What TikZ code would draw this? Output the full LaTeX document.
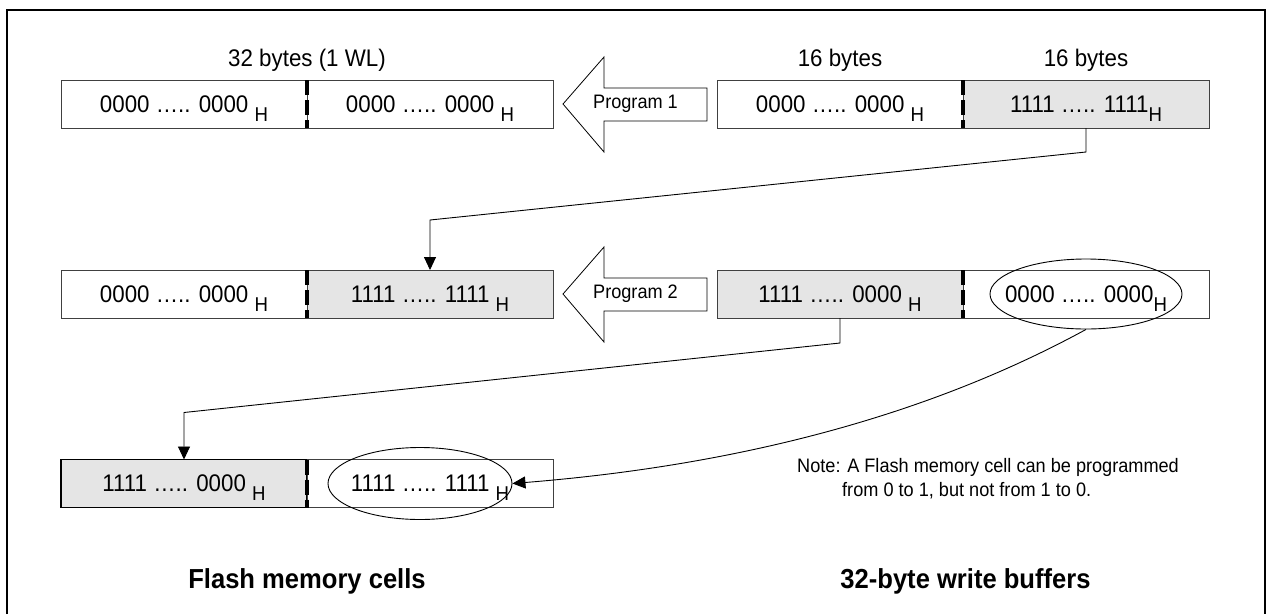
\documentclass[tikz,border=0pt]{standalone}
\usepackage{fontspec}
\setmainfont{Liberation Sans}[FakeStretch=0.93]
\usetikzlibrary{positioning, shapes.geometric, arrows.meta}
\newcommand{\hsub}{\smash{\raisebox{-9pt}{\fontsize{20}{20}\selectfont H}}}

\begin{document}
\begin{tikzpicture}[x=1pt, y=-1pt]
\tikzstyle{half}=[rectangle, draw=black!75, line width=0.9pt, minimum width=246pt, minimum height=48pt, inner sep=0pt, outer sep=0pt, font=\fontsize{24}{24}\selectfont]
\tikzstyle{halfgray}=[half, fill=black!10]
\tikzstyle{divider}=[line width=3.5pt, dash pattern=on 15pt off 5pt]
\tikzstyle{connect}=[-{Triangle[width=12pt,length=13pt]}, line width=0.9pt]
\tikzstyle{progarrow}=[draw, line width=0.8pt, fill=white]
\tikzstyle{ring}=[ellipse, draw, line width=0.9pt, inner sep=0pt]
\tikzstyle{lbl}=[inner sep=0pt, font=\fontsize{24}{24}\selectfont]
\tikzstyle{proglbl}=[inner sep=0pt, font=\fontsize{19.5}{19.5}\selectfont]
\tikzstyle{note}=[inner sep=0pt, align=left, font=\fontsize{19.5}{24}\selectfont]
\tikzstyle{heading}=[inner sep=0pt, font=\fontsize{27.5}{27.5}\selectfont\bfseries]
\useasboundingbox (0,0) rectangle (1267,614);
\draw[line width=2.5pt] (7,614) |- (1265,10) -- (1265,614);
% flash memory cells
\node[half] (f1l) at (184,104) {0000 ….. 0000 \hsub};
\node[half] (f1r) [right=0pt of f1l] {0000 ….. 0000 \hsub};
\node[half] (f2l) [below=142pt of f1l] {0000 ….. 0000 \hsub};
\node[halfgray] (f2r) [right=0pt of f2l] {1111 ….. 1111 \hsub};
\node[halfgray, draw=black, line width=1.5pt] (f3l) [below=141.5pt of f2l] {1111 ….. 0000 \hsub};
\node[half] (f3r) [right=0pt of f3l] {1111 ….. 1111 \hsub};
% write buffers
\node[half] (b1l) [right=164pt of f1r] {0000 ….. 0000 \hsub};
\node[halfgray] (b1r) [right=0pt of b1l] {1111 ….. 1111\hsub};
\node[halfgray] (b2l) [below=142pt of b1l] {1111 ….. 0000 \hsub};
\node[half] (b2r) [right=0pt of b2l] {0000 ….. 0000\hsub};
\draw[divider] (f1l.north east) -- (f1l.south east);
\draw[divider] (f2l.north east) -- (f2l.south east);
\draw[divider] (f3l.north east) -- (f3l.south east);
\draw[divider] (b1l.north east) -- (b1l.south east);
\draw[divider] (b2l.north east) -- (b2l.south east);
\node[ring, minimum width=192pt, minimum height=70pt] (oval2) at (b2r.center) {};
\node[ring, minimum width=184pt, minimum height=72pt] (oval3) at ([xshift=-10pt]f3r.center) {};
% program arrows
\draw[progarrow] ([xshift=10pt]f1r.east) -- ++(41,-47) -- ++(0,31) -- ++(103,0) -- ++(0,33) -- ++(-103,0) -- ++(0,31) -- cycle;
\node[proglbl] (prog1) at ([xshift=82.5pt]f1r.east) {Program 1};
\draw[progarrow] ([xshift=10pt]f2r.east) -- ++(41,-47) -- ++(0,31) -- ++(103,0) -- ++(0,33) -- ++(-103,0) -- ++(0,31) -- cycle;
\node[proglbl] (prog2) at ([xshift=82.5pt]f2r.east) {Program 2};
% labels
\node[lbl, anchor=base] (wl) at ([yshift=13.5pt]f1l.north east) {32 bytes (1 WL)};
\node[lbl, anchor=base] (size1) at ([yshift=13.5pt]b1l.north) {16 bytes};
\node[lbl, anchor=base] (size2) at ([yshift=13.5pt]b1r.north) {16 bytes};
\node[note, anchor=base west] (note) at (797,496) {Note: A Flash memory cell can be programmed\\\hspace*{45pt}from 0 to 1, but not from 1 to 0.};
\node[heading, anchor=base] (flashlbl) at (307,588) {Flash memory cells};
\node[heading, anchor=base] (buflbl) at (965.5,588) {32-byte write buffers};
% connectors
\draw[connect] (b1r.south) -- ++(0,24) -- ([yshift=50pt]f2r.north) -- (f2r.north);
\draw[connect] (b2l.south) -- ++(0,25) -- ([yshift=47pt]f3l.north) -- (f3l.north);
\draw[connect] (oval2.south) .. controls +(-175,95.5) and +(200,-16) .. (oval3.east);
\end{tikzpicture}
\end{document}
